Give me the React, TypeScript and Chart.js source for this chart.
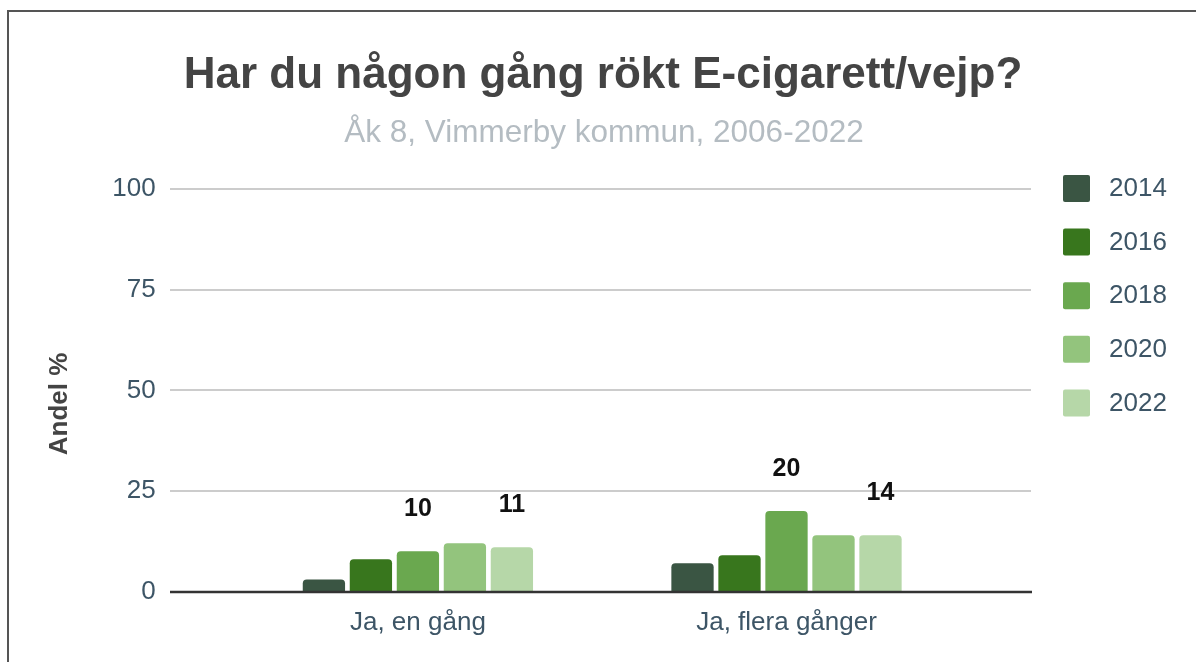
import React, { useEffect, useRef } from "react";
import { Chart, registerables } from "chart.js";
Chart.register(...registerables);

const categories = ["Ja, en gång", "Ja, flera gånger"];
const years = ["2014", "2016", "2018", "2020", "2022"];
const v2014 = [3, 7];
const v2016 = [8, 9];
const v2018 = [10, 20];
const v2020 = [12, 14];
const v2022 = [11, 14];
const seriesValues = [v2014, v2016, v2018, v2020, v2022];
const colors = ["#3a5543", "#38761d", "#6aa84f", "#93c47d", "#b6d7a8"];
const labelledYears = ["2018", "2022"];
const yTickValues = [0, 25, 50, 75, 100];
const titleText = "Har du någon gång rökt E-cigarett/vejp?";
const subtitleText = "Åk 8, Vimmerby kommun, 2006-2022";
const yTitleText = "Andel %";

const FONT = '"Liberation Sans", Arial, sans-serif';
const W = 1196;
const H = 662;

const decor = {
  id: "decor",
  beforeDatasetsDraw(chart: any) {
    const { ctx, scales } = chart;
    const y = scales.y;
    ctx.save();
    ctx.strokeStyle = "#cccccc";
    ctx.lineWidth = 2;
    y.ticks.forEach((t: any) => {
      if (t.value === 0) return;
      const py = Math.round(y.getPixelForValue(t.value));
      ctx.beginPath();
      ctx.moveTo(170, py);
      ctx.lineTo(1031, py);
      ctx.stroke();
    });
    ctx.restore();
  },
  afterDatasetsDraw(chart: any) {
    const { ctx, scales } = chart;
    const y = scales.y;
    ctx.save();
    // baseline
    const by = Math.round(y.getPixelForValue(0));
    ctx.strokeStyle = "#333333";
    ctx.lineWidth = 2.5;
    ctx.beginPath();
    ctx.moveTo(170, by);
    ctx.lineTo(1032, by);
    ctx.stroke();

    // data labels
    ctx.fillStyle = "#111111";
    ctx.font = `bold 25px ${FONT}`;
    ctx.textAlign = "center";
    ctx.textBaseline = "middle";
    chart.data.datasets.forEach((ds: any, di: number) => {
      if (!labelledYears.includes(ds.label)) return;
      const meta = chart.getDatasetMeta(di);
      meta.data.forEach((bar: any, i: number) => {
        ctx.fillText(String(ds.data[i]), bar.x, bar.y - 42);
      });
    });

    // title & subtitle
    ctx.textBaseline = "alphabetic";
    ctx.fillStyle = "#444444";
    ctx.font = `bold 44px ${FONT}`;
    ctx.fillText(titleText, 603, 88);
    ctx.fillStyle = "#b4bcc2";
    ctx.font = `31.5px ${FONT}`;
    ctx.fillText(subtitleText, 604, 142);

    // y title
    ctx.save();
    ctx.translate(60, 404);
    ctx.rotate(-Math.PI / 2);
    ctx.fillStyle = "#444444";
    ctx.font = `bold 26px ${FONT}`;
    ctx.textBaseline = "middle";
    ctx.fillText(yTitleText, 0, 0);
    ctx.restore();

    // legend
    ctx.textAlign = "left";
    ctx.textBaseline = "middle";
    ctx.font = `26px ${FONT}`;
    chart.data.datasets.forEach((ds: any, di: number) => {
      const top = 175 + di * 53.6;
      ctx.fillStyle = ds.backgroundColor;
      ctx.beginPath();
      (ctx as any).roundRect(1063, top, 27, 27, 2);
      ctx.fill();
      ctx.fillStyle = "#3d5566";
      ctx.fillText(ds.label, 1109, top + 14);
    });
    ctx.restore();
  },
};

export default function App() {
  const ref = useRef<HTMLCanvasElement>(null);
  useEffect(() => {
    if (!ref.current) return;
    const chart = new Chart(ref.current, {
      type: "bar",
      data: {
        labels: categories,
        datasets: years.map((yr, i) => ({
          label: yr,
          data: seriesValues[i],
          backgroundColor: colors[i],
          borderRadius: 4,
          categoryPercentage: 0.6375,
          barPercentage: 0.9,
        })),
      },
      plugins: [decor],
      options: {
        animation: false,
        responsive: false,
        layout: { padding: { left: 0, right: 225.2, top: 189.3, bottom: 0 } },
        plugins: {
          legend: { display: false },
          title: { display: false },
          tooltip: { enabled: false },
        },
        scales: {
          x: {
            grid: { display: false, drawTicks: false },
            border: { display: false },
            ticks: {
              color: "#3d5566",
              font: { family: FONT, size: 26 },
              padding: 16,
              maxRotation: 0,
            },
            afterFit: (s: any) => {
              s.height = H - 591.5;
            },
          },
          y: {
            min: 0,
            max: 100,
            afterBuildTicks: (s: any) => {
              s.ticks = yTickValues.map((v) => ({ value: v }));
            },
            grid: { display: false, drawTicks: true, tickLength: 76 },
            border: { display: false },
            ticks: {
              color: "#3d5566",
              font: { family: FONT, size: 26 },
              padding: 2,
            },
            afterFit: (s: any) => {
              s.width = 233.6;
            },
          },
        },
      },
    });
    return () => chart.destroy();
  }, []);
  return (
    <>
      <div
        style={{
          position: "fixed",
          left: 7,
          top: 10,
          width: 1300,
          height: 800,
          border: "2px solid #555",
          boxSizing: "border-box",
        }}
      />
      <canvas
        ref={ref}
        width={W}
        height={H}
        style={{ position: "fixed", left: 0, top: 0, width: W, height: H }}
      />
    </>
  );
}
